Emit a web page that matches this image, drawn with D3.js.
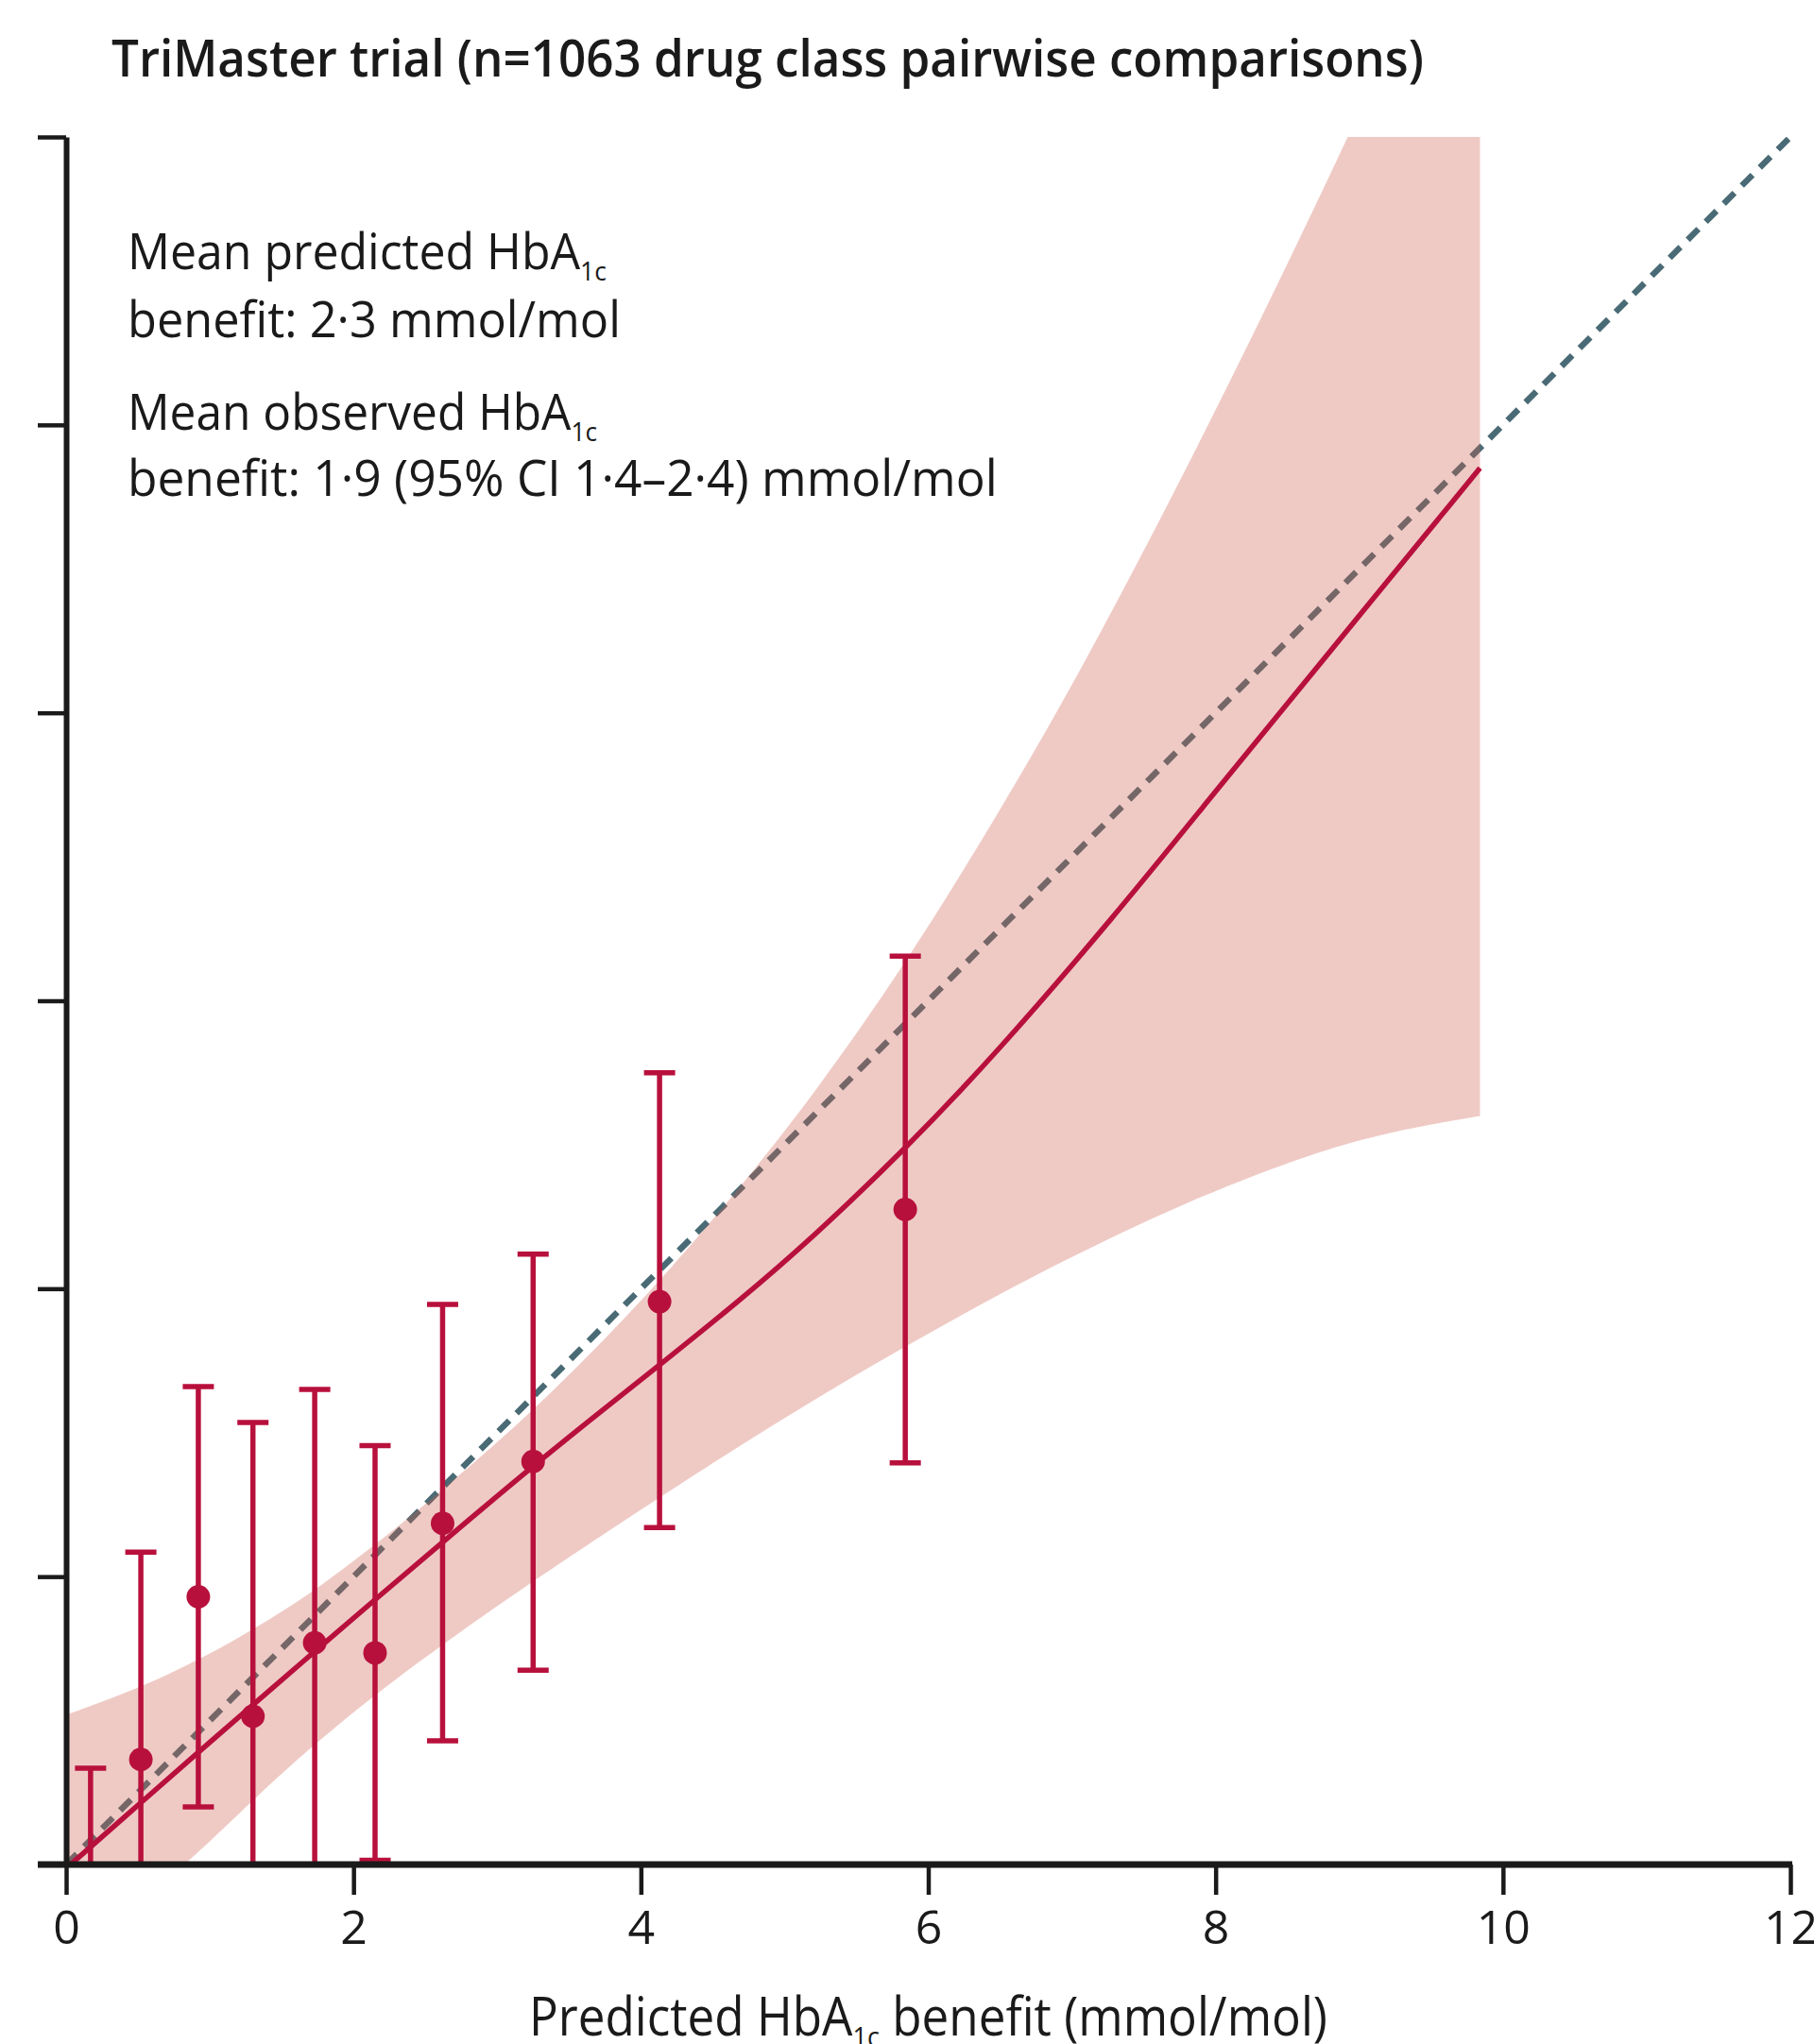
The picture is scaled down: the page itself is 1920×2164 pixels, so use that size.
<!DOCTYPE html>
<html>
  <head>
    <meta charset="UTF-8">
    <style>
      body {
        margin: 0;
        background: white;
      }

      svg text {
        font-family: 'Open Sans', 'Noto Sans', sans-serif;
        fill: #1a1a1a;
      }

      .x-axis text {
        font-size: 50px;
      }

      .x-axis line,
      .y-axis line {
        stroke: #1a1a1a;
        stroke-width: 4.5;
      }

      .x-axis .domain {
        stroke: #1a1a1a;
        stroke-width: 7;
      }

      .y-axis .domain {
        stroke: #1a1a1a;
        stroke-width: 6;
      }
    </style>
    <script src="https://d3js.org/d3.v7.min.js"></script>
  </head>

  <body>
    <svg id="chart"></svg>

    <script type="text/javascript">
      // calibration groups (predicted vs observed benefit, mmol/mol)
      let pointX = [0.17, 0.52, 0.92, 1.30, 1.73, 2.15, 2.62, 3.25, 4.13, 5.84]
      let pointY = [-0.25, 0.73, 1.86, 1.03, 1.54, 1.47, 2.37, 2.80, 3.91, 4.55]
      let ciLower = [-1.2, -0.6, 0.40, -0.6, -0.4, 0.03, 0.86, 1.35, 2.34, 2.79]
      let ciUpper = [0.67, 2.17, 3.32, 3.07, 3.30, 2.91, 3.89, 4.24, 5.50, 6.31]

      // fitted calibration curve
      let curveX = [0.03, 0.52, 0.92, 1.30, 1.73, 2.15, 2.62, 3.25, 3.75, 4.13, 4.69, 5.19, 5.84, 6.47, 7.29, 7.98, 8.61, 9.84]
      let curveY = [0.00, 0.43, 0.78, 1.11, 1.48, 1.84, 2.24, 2.77, 3.17, 3.47, 3.92, 4.35, 4.97, 5.63, 6.58, 7.43, 8.20, 9.70]

      // 95% confidence band of the curve
      let bandX = [0, 0.5, 0.92, 1.3, 1.73, 2.15, 2.62, 3.25, 3.75, 4.13, 4.69, 5.19, 5.84, 6.47, 7.07, 7.88, 8.64, 9.2, 9.84]
      let bandUpper = [1.04, 1.22, 1.42, 1.63, 1.9, 2.22, 2.6, 3.15, 3.65, 4.05, 4.7, 5.33, 6.25, 7.27, 8.3, 9.85, 11.4, 12.6, 14.0]
      let bandLower = [-0.7, -0.28, 0.08, 0.45, 0.84, 1.18, 1.53, 1.97, 2.3, 2.55, 2.91, 3.22, 3.6, 3.95, 4.26, 4.64, 4.93, 5.09, 5.2]

      let identityLine = [0, 12]
      let xTicks = [0, 2, 4, 6, 8, 10, 12]
      let yTicks = [0, 2, 4, 6, 8, 10, 12]

      let titleText = 'TriMaster trial (n=1063 drug class pairwise comparisons)'
      let annotationLines = [
        ['Mean predicted HbA', '1c', ''],
        ['benefit: 2·3 mmol/mol', '', ''],
        ['Mean observed HbA', '1c', ''],
        ['benefit: 1·9 (95% CI 1·4–2·4) mmol/mol', '', ''],
      ]
      let xLabelParts = ['Predicted HbA', '1c', ' benefit (mmol/mol)']

      function getChartConfig() {
        let width = 1920
        let height = 2164
        let margin = {
          top: 145,
          bottom: 190,
          left: 70,
          right: 25
        }

        let svg = d3.select('#chart')
          .attr('width', width)
          .attr('height', height)

        return { width, height, margin, svg }
      }

      function getChartScales(config) {
        let xScale = d3.scaleLinear()
          .domain([0, 12])
          .range([config.margin.left, config.width - config.margin.right])

        let yScale = d3.scaleLinear()
          .domain([0, 12])
          .range([config.height - config.margin.bottom, config.margin.top])

        return { xScale, yScale }
      }

      function drawPlot(scales, config) {
        let x = scales.xScale
        let y = scales.yScale

        config.svg.append('clipPath')
          .attr('id', 'plot-clip')
          .append('rect')
          .attr('x', x(0))
          .attr('y', y(12))
          .attr('width', x(12) - x(0))
          .attr('height', y(0) - y(12))

        let g = config.svg.append('g')
          .attr('clip-path', 'url(#plot-clip)')

        // line of perfect calibration, later tinted by the band on top
        g.append('path')
          .datum(identityLine)
          .attr('d', d3.line().x(d => x(d)).y(d => y(d)))
          .attr('fill', 'none')
          .attr('stroke', '#4a6b75')
          .attr('stroke-width', 6.5)
          .attr('stroke-dasharray', '16 11')

        let band = bandX.map((d, i) => ({ x: d, lo: bandLower[i], hi: bandUpper[i] }))
        g.append('path')
          .datum(band)
          .attr('d', d3.area()
            .x(d => x(d.x))
            .y0(d => y(d.lo))
            .y1(d => y(d.hi))
            .curve(d3.curveBasis))
          .attr('fill', 'rgb(206, 94, 79)')
          .attr('fill-opacity', 0.33)

        let curve = curveX.map((d, i) => ({ x: d, y: curveY[i] }))
        g.append('path')
          .datum(curve)
          .attr('d', d3.line()
            .x(d => x(d.x))
            .y(d => y(d.y))
            .curve(d3.curveBasis))
          .attr('fill', 'none')
          .attr('stroke', '#b8103c')
          .attr('stroke-width', 5.5)

        let points = pointX.map((d, i) => ({ x: d, y: pointY[i], lo: ciLower[i], hi: ciUpper[i] }))
        let capHalf = 16.5

        g.selectAll('.err')
          .data(points)
          .enter()
          .append('line')
          .attr('class', 'err')
          .attr('x1', d => x(d.x))
          .attr('x2', d => x(d.x))
          .attr('y1', d => y(d.lo))
          .attr('y2', d => y(d.hi))
          .attr('stroke', '#b8103c')
          .attr('stroke-width', 5.5)

        let caps = points.flatMap(d => [{ x: d.x, v: d.lo }, { x: d.x, v: d.hi }])
        g.selectAll('.cap')
          .data(caps)
          .enter()
          .append('line')
          .attr('class', 'cap')
          .attr('x1', d => x(d.x) - capHalf)
          .attr('x2', d => x(d.x) + capHalf)
          .attr('y1', d => y(d.v))
          .attr('y2', d => y(d.v))
          .attr('stroke', '#b8103c')
          .attr('stroke-width', 5.5)

        g.selectAll('.dot')
          .data(points)
          .enter()
          .append('circle')
          .attr('class', 'dot')
          .attr('cx', d => x(d.x))
          .attr('cy', d => y(d.y))
          .attr('r', 12.5)
          .attr('fill', '#b8103c')
      }

      function drawAxes(scales, config) {
        let x = scales.xScale
        let y = scales.yScale
        let yTickLen = 30

        let axisY = d3.axisLeft(y)
          .tickValues(yTicks)
          .tickSize(yTickLen)
          .tickSizeOuter(0)
          .tickFormat('')
        config.svg.append('g')
          .attr('class', 'y-axis')
          .attr('transform', `translate(${x(0)}, 0)`)
          .call(axisY)

        let axisX = d3.axisBottom(x)
          .tickValues(xTicks)
          .tickSize(32)
          .tickSizeOuter(0)
          .tickPadding(16)
          .tickFormat(d => d.toString())
        let gx = config.svg.append('g')
          .attr('class', 'x-axis')
          .attr('transform', `translate(0, ${y(0)})`)
          .call(axisX)
        gx.select('.domain')
          .attr('d', `M${x(0) - yTickLen},0H${x(12) + 2}`)
      }

      function addRichText(parent, parts, size, subSize, weight) {
        let g = parent.append('g')
        let t = g.append('text')
          .attr('x', 0)
          .attr('y', 0)
          .style('font-size', size + 'px')
          .style('font-weight', weight)
        t.append('tspan').text(parts[0])
        if (parts[1]) {
          t.append('tspan')
            .attr('dy', 12)
            .style('font-size', subSize + 'px')
            .text(parts[1])
        }
        if (parts[2]) {
          t.append('tspan')
            .attr('dy', -12)
            .text(parts[2])
        }
        return g
      }

      function fitText(g, left, baseline, width) {
        let w = g.select('text').node().getComputedTextLength()
        g.attr('transform', `translate(${left}, ${baseline}) scale(${width / w}, 1)`)
      }

      function drawTexts(scales, config) {
        let title = addRichText(config.svg, [titleText, '', ''], 55, 0, 600)
        fitText(title, 118, 81, 1389)

        let annBaselines = [285, 357, 455, 525]
        let annWidths = [507, 522, 497, 921]
        annotationLines.forEach((parts, i) => {
          let g = addRichText(config.svg, parts, 53, 28, 400)
          fitText(g, 135, annBaselines[i], annWidths[i])
        })

        let label = addRichText(config.svg, xLabelParts, 57, 30, 400)
        let labelWidth = 845
        fitText(label, scales.xScale(6) - labelWidth / 2, 2155, labelWidth)
      }

      function showChart() {
        let config = getChartConfig()
        let scales = getChartScales(config)

        drawPlot(scales, config)
        drawAxes(scales, config)
        drawTexts(scales, config)
      }

      document.fonts.ready.then(showChart)
    </script>
  </body>
</html>
